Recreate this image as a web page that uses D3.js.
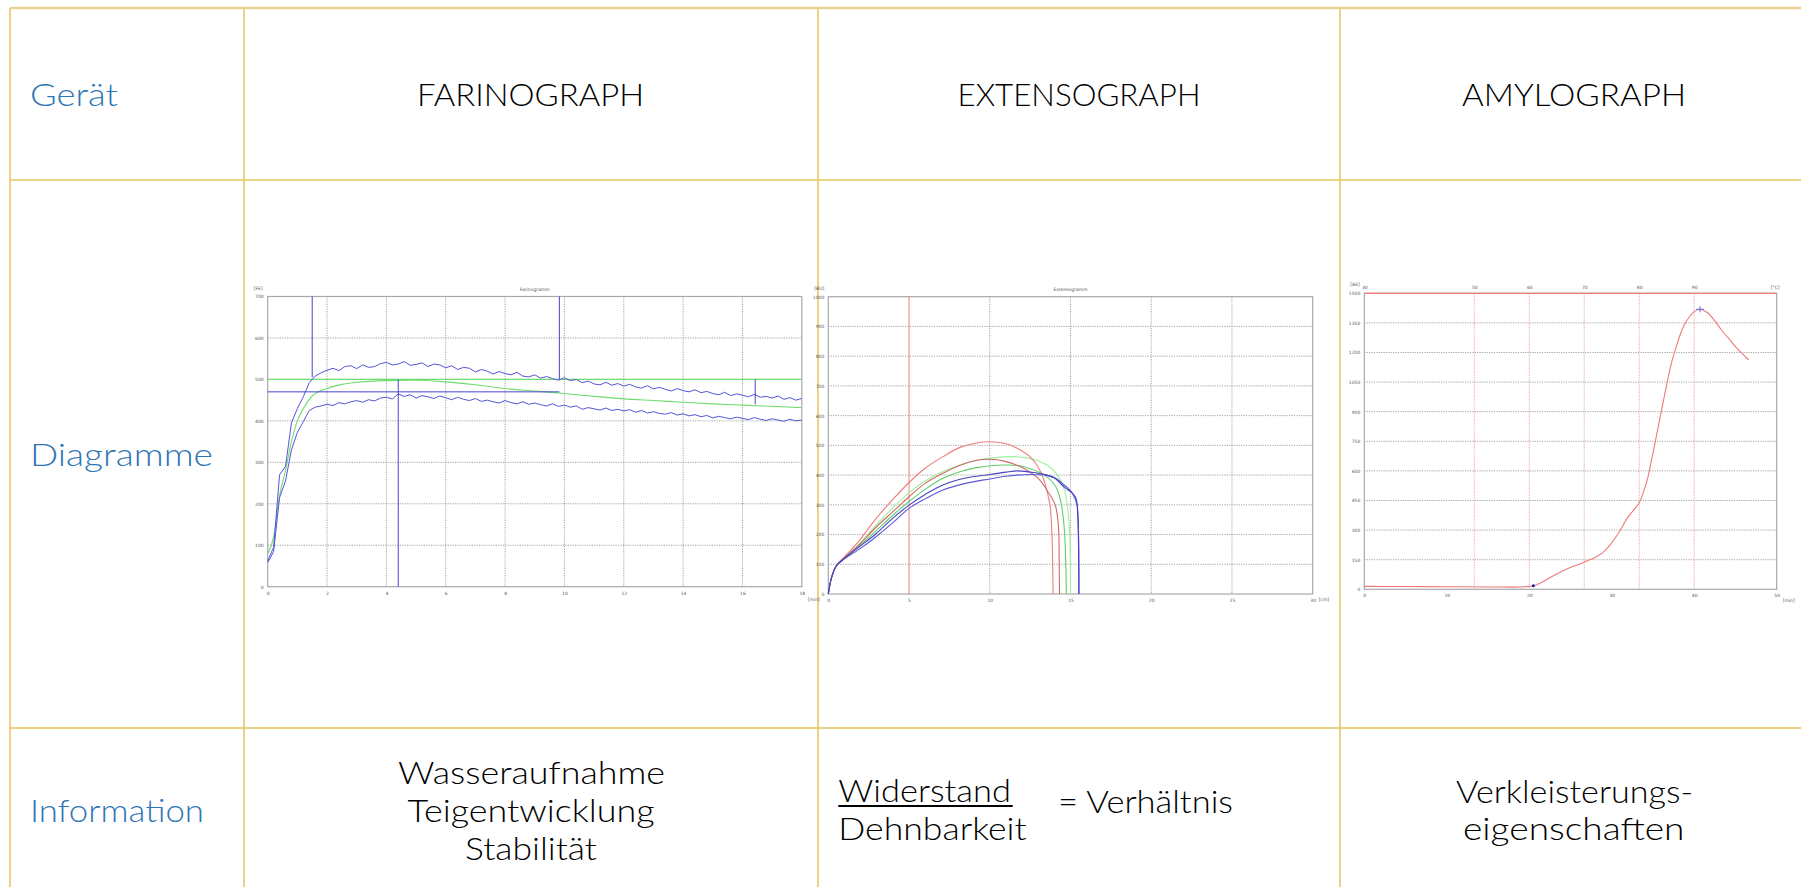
<!DOCTYPE html>
<html><head><meta charset="utf-8">
<script src="https://cdn.jsdelivr.net/npm/d3@7/dist/d3.min.js"></script>
<style>body{margin:0;background:#fff}svg{display:block}</style>
</head><body>
<svg id="c" width="1801" height="887"></svg>
<script>
// ---------- table texts ----------
const rowLabels = ["Gerät", "Diagramme", "Information"];
const devices = ["FARINOGRAPH", "EXTENSOGRAPH", "AMYLOGRAPH"];
const farinoInfo = ["Wasseraufnahme", "Teigentwicklung", "Stabilität"];
const extensoInfo = ["Widerstand", "Dehnbarkeit", "= Verhältnis"];
const amyloInfo = ["Verkleisterungs-", "eigenschaften"];

// ---------- Farinograph (min, FE) ----------
const farinoTime = [0,0.2,0.4,0.6,0.8,1,1.2,1.4,1.6,1.8,2,2.2,2.4,2.6,2.8,3,3.2,3.4,3.6,3.8,4,4.2,4.4,4.6,4.8,5,5.2,5.4,5.6,5.8,6,6.2,6.4,6.6,6.8,7,7.2,7.4,7.6,7.8,8,8.2,8.4,8.6,8.8,9,9.2,9.4,9.6,9.8,10,10.2,10.4,10.6,10.8,11,11.2,11.4,11.6,11.8,12,12.2,12.4,12.6,12.8,13,13.2,13.4,13.6,13.8,14,14.2,14.4,14.6,14.8,15,15.2,15.4,15.6,15.8,16,16.2,16.4,16.6,16.8,17,17.2,17.4,17.6,17.8,18];
const farinoUpper = [62,95,270,290,395,430,458,492,508,516,522,527,521,531,533,526,535,529,531,538,541,535,537,543,534,536,540,531,537,535,528,533,524,529,527,518,524,520,513,519,514,511,517,508,506,511,503,507,502,498,504,497,500,492,496,489,487,493,486,490,484,488,482,479,485,477,481,476,472,478,473,470,475,468,471,466,463,469,461,465,462,458,464,457,459,455,460,452,456,450,454];
const farinoLower = [58,85,215,255,330,372,398,425,433,436,440,437,444,441,446,449,445,451,448,455,457,453,465,459,463,455,461,458,454,460,456,451,457,452,449,454,447,450,446,443,449,444,441,446,440,443,439,436,441,435,438,433,436,428,432,429,426,431,425,428,424,427,421,425,419,422,418,416,420,414,417,412,415,410,413,407,411,408,405,409,406,403,408,404,401,405,402,399,404,400,402];
const farinoMeanT = [0,0.2,0.4,0.6,0.8,1,1.2,1.5,2,2.5,3,4,5,6,7,8,9,10,11,12,13,14,15,16,17,18];
const farinoMean  = [80,120,220,280,350,400,430,460,478,488,493,497,498,494,487,478,472,466,459,453,449,445,441,438,435,432];
const farinoTarget = [500];
// marker segments [t1, FE1, t2, FE2]
const farinoMarks = [[1.5,700,1.5,505],[9.83,700,9.83,500],[0,470,9.83,470],[4.4,500,4.4,0],[16.43,500,16.43,440]];
const farinoXTicks = [0,2,4,6,8,10,12,14,16,18];
const farinoYTicks = [0,100,200,300,400,500,600,700];

// ---------- Extensograph (cm, BU) ----------
const extRedHigh = [[0,0],[0.2,55],[0.5,95],[1,125],[1.9,178],[2.9,250],[4,318],[5,375],[6,423],[7.1,462],[8.2,494],[9.2,508],[10,512],[10.9,507],[11.7,490],[12.6,456],[13.2,405],[13.55,345],[13.75,290],[13.85,200],[13.9,90],[13.92,0]];
const extRedLow = [[0,0],[0.2,55],[0.5,95],[1,122],[1.9,165],[2.9,222],[4,277],[5,327],[6,372],[7.1,406],[8.2,434],[9.2,450],[10,453],[10.9,447],[11.9,428],[13,389],[13.6,344],[14.05,300],[14.25,230],[14.3,100],[14.32,0]];
const extGreenHigh = [[0,0],[0.2,55],[0.5,95],[1,122],[1.9,168],[2.9,228],[4,290],[5,340],[6,380],[7.1,412],[8.2,435],[9.2,450],[10.2,458],[11.3,462],[12.3,458],[13,447],[13.7,428],[14.2,400],[14.6,355],[14.8,300],[14.95,200],[15,0]];
const extGreenLow = [[0,0],[0.2,55],[0.5,95],[1,120],[1.9,160],[2.9,210],[4,265],[5,311],[6,352],[7.1,389],[8.2,412],[9.2,425],[10.2,432],[10.9,434],[11.8,432],[12.4,423],[13.4,400],[14.1,360],[14.4,310],[14.6,230],[14.7,120],[14.74,0]];
const extBlueHigh = [[0,0],[0.2,55],[0.5,95],[1,120],[1.9,158],[2.9,200],[4,255],[5,299],[6,335],[7.1,367],[8.5,390],[10,402],[11,410],[11.7,414],[12.5,410],[13.4,402],[14,390],[14.65,358],[15.1,340],[15.35,320],[15.45,260],[15.5,150],[15.52,0]];
const extBlueLow = [[0,0],[0.2,55],[0.5,95],[1,118],[1.9,150],[2.9,190],[4,240],[5,288],[6,320],[7.1,350],[8.5,372],[10,387],[11,396],[11.7,400],[12.6,402],[13.4,400],[14,392],[14.65,365],[15.1,340],[15.4,300],[15.5,200],[15.52,0]];
const extMark = [5];
const extXTicks = [0,5,10,15,20,25,30];
const extYTicks = [0,100,200,300,400,500,600,700,800,900,1000];

// ---------- Amylograph (min, AE) ----------
const amyCurve = [[0,15],[5,14],[10,13],[15,12],[19,12],[20.5,18],[21.5,35],[22.7,64],[24,92],[24.7,106],[25.7,122],[26.7,138],[27.7,156],[28.8,182],[29.8,225],[30.8,284],[32,368],[33.3,436],[33.9,500],[34.4,571],[34.9,670],[35.4,774],[36,900],[36.7,1044],[37.2,1140],[37.7,1213],[38.3,1290],[38.9,1348],[39.5,1385],[40,1407],[40.7,1419],[41.2,1412],[41.7,1399],[42.5,1360],[43.3,1314],[44.2,1270],[45,1230],[45.8,1195],[46.6,1162]];
const amyStart = [20.5, 18];
const amyPeak = [40.7, 1419];
const amyXTicks = [0,10,20,30,40,50];
const amyYTicks = [0,150,300,450,600,750,900,1050,1200,1350,1500];
const amyTempTicks = [30,50,60,70,80,90];

// ================= drawing =================
const svg = d3.select("#c");
svg.append("rect").attr("width",1801).attr("height",887).attr("fill","#fff");

const FONT = "Lato, 'Noto Sans', sans-serif";
const TINY = "'DejaVu Sans', sans-serif";

function txt(s, x, y, w, color, opts={}) {
  return svg.append("text").attr("x",x).attr("y",y).text(s)
    .attr("font-family",FONT).attr("font-size",opts.size||31).attr("font-weight",300)
    .attr("fill",color).attr("textLength",w).attr("lengthAdjust","spacingAndGlyphs");
}

// ---------- table grid ----------
const lineCol = "#E3B944";
const colX = [10, 244, 818, 1340];
const rowY = [8, 180, 728];
colX.forEach(x => svg.append("line").attr("x1",x).attr("x2",x).attr("y1",8).attr("y2",887)
  .attr("stroke",lineCol).attr("stroke-width",1.3));
rowY.slice(1).forEach(y => svg.append("line").attr("x1",10).attr("x2",1801).attr("y1",y).attr("y2",y)
  .attr("stroke","#E6C45E").attr("stroke-width",1.6));
svg.append("line").attr("x1",10).attr("x2",1801).attr("y1",rowY[0]).attr("y2",rowY[0])
  .attr("stroke","#E8D38E").attr("stroke-width",2.4);

// ---------- table texts ----------
const blue = "#2E75B6";
txt(rowLabels[0], 30, 106, 88, blue);
txt(rowLabels[1], 30, 466, 183, blue);
txt(rowLabels[2], 30, 822, 174, blue);
txt(devices[0], 417, 106, 227, "#000");
txt(devices[1], 957.5, 106, 243, "#000");
txt(devices[2], 1462, 106, 224, "#000");
txt(farinoInfo[0], 398, 784, 267, "#000");
txt(farinoInfo[1], 407.6, 822, 247, "#000");
txt(farinoInfo[2], 465, 860, 132, "#000");
txt(extensoInfo[0], 838.3, 802, 172.7, "#000");
svg.append("line").attr("x1",838.3).attr("x2",1012.7).attr("y1",806).attr("y2",806).attr("stroke","#000").attr("stroke-width",2);
txt(extensoInfo[1], 838.3, 840, 188.4, "#000");
txt(extensoInfo[2], 1058, 813, 175, "#000");
txt(amyloInfo[0], 1456, 803, 237, "#000");
txt(amyloInfo[1], 1463, 840, 221.5, "#000");

// ---------- panel helper ----------
function panel(cfg) {
  const g = svg.append("g");
  const x = d3.scaleLinear().domain(cfg.xDomain).range([cfg.left, cfg.right]);
  const y = d3.scaleLinear().domain(cfg.yDomain).range([cfg.bottom, cfg.top]);
  g.selectAll(null).data(cfg.yTicks.slice(1,-1)).join("line")
    .attr("x1",cfg.left).attr("x2",cfg.right).attr("y1",d=>y(d)).attr("y2",d=>y(d))
    .attr("stroke","#8c8c8c").attr("stroke-width",0.8).attr("stroke-dasharray","1.2,1.2");
  if (cfg.vGrid) g.selectAll(null).data(cfg.vGrid).join("line")
    .attr("x1",d=>x(d)).attr("x2",d=>x(d)).attr("y1",cfg.top).attr("y2",cfg.bottom)
    .attr("stroke",cfg.vGridColor||"#8c8c8c").attr("stroke-width",0.8).attr("stroke-dasharray","1.2,1.2");
  g.append("rect").attr("x",cfg.left).attr("y",cfg.top).attr("width",cfg.right-cfg.left).attr("height",cfg.bottom-cfg.top)
    .attr("fill","none").attr("stroke","#a8a8a8").attr("stroke-width",1.2);
  const ya = g.append("g").attr("transform",`translate(${cfg.left},0)`)
    .call(d3.axisLeft(y).tickValues(cfg.yTicks).tickSize(0).tickPadding(4).tickFormat(d3.format("d")));
  const xa = g.append("g").attr("transform",`translate(0,${cfg.bottom})`)
    .call(d3.axisBottom(x).tickValues(cfg.xTicks).tickSize(0).tickPadding(5).tickFormat(d3.format("d")));
  [ya, xa].forEach(a => {
    a.select(".domain").remove();
    a.selectAll("text").attr("font-family",TINY).attr("font-size",4.5).attr("fill","#555");
  });
  g.append("text").attr("x",cfg.left-14).attr("y",cfg.top-7).text(cfg.yUnit)
    .attr("font-family",TINY).attr("font-size",4.5).attr("fill","#555");
  g.append("text").attr("x",cfg.right+6).attr("y",cfg.bottom+(cfg.xUnitDy||14)).text(cfg.xUnit)
    .attr("font-family",TINY).attr("font-size",4.5).attr("fill","#555");
  if (cfg.title) g.append("text").attr("x",(cfg.left+cfg.right)/2).attr("y",cfg.top-6).text(cfg.title)
    .attr("text-anchor","middle").attr("font-family",TINY).attr("font-size",4.5).attr("fill","#555");
  return {g, x, y};
}

// ---------- Farinograph ----------
{
  const {g,x,y} = panel({left:267.7, right:801.8, top:296.5, bottom:586.7,
    xDomain:[0,18], yDomain:[0,700], xTicks:farinoXTicks, yTicks:farinoYTicks,
    vGrid:farinoXTicks.slice(1,-1), yUnit:"[FE]", xUnit:"[min]", title:"Farinogramm"});
  const L = d3.line().x(d=>x(d[0])).y(d=>y(d[1]));
  g.selectAll(null).data(farinoTarget).join("line")
    .attr("x1",x(0)).attr("x2",x(18)).attr("y1",d=>y(d)).attr("y2",d=>y(d))
    .attr("stroke","#6fe06f").attr("stroke-width",1.1);
  g.append("path").datum(farinoMeanT.map((t,i)=>[t,farinoMean[i]])).attr("d",L.curve(d3.curveMonotoneX))
    .attr("fill","none").attr("stroke","#72dc72").attr("stroke-width",1.1);
  const Lj = d3.line().x(d=>x(d[0])).y(d=>y(d[1]));
  [farinoUpper, farinoLower].forEach(s => g.append("path").datum(farinoTime.map((t,i)=>[t,s[i]])).attr("d",Lj)
    .attr("fill","none").attr("stroke","#5555d8").attr("stroke-width",1));
  g.selectAll(null).data(farinoMarks).join("line")
    .attr("x1",d=>x(d[0])).attr("y1",d=>y(d[1])).attr("x2",d=>x(d[2])).attr("y2",d=>y(d[3]))
    .attr("stroke","#4545d0").attr("stroke-width",1);
}

// ---------- Extensograph ----------
{
  const {g,x,y} = panel({left:828.3, right:1312.7, top:296.7, bottom:594,
    xDomain:[0,30], yDomain:[0,1000], xTicks:extXTicks, yTicks:extYTicks,
    vGrid:extXTicks.slice(2,-1), yUnit:"[BU]", xUnit:"[cm]", xUnitDy:7, title:"Extensogramm"});
  g.selectAll(null).data(extMark).join("line")
    .attr("x1",d=>x(d)).attr("x2",d=>x(d)).attr("y1",y(1000)).attr("y2",y(0))
    .attr("stroke","#ee8080").attr("stroke-width",1);
  const Lc = d3.line().x(d=>x(d[0])).y(d=>y(d[1])).curve(d3.curveCatmullRom);
  const series = [
    [extGreenHigh, "#9ff09f"], [extGreenLow, "#5fcf6a"],
    [extRedHigh, "#ef7d7d"], [extRedLow, "#d06a6a"],
    [extBlueLow, "#5a5ad6"], [extBlueHigh, "#4444c4"]
  ];
  series.forEach(([d,c]) => g.append("path").datum(d).attr("d",Lc)
    .attr("fill","none").attr("stroke",c).attr("stroke-width",1.1));
}

// ---------- Amylograph ----------
{
  const {g,x,y} = panel({left:1364.3, right:1776.7, top:293.3, bottom:589.3,
    xDomain:[0,50], yDomain:[0,1500], xTicks:amyXTicks, yTicks:amyYTicks,
    vGrid:null, yUnit:"[AE]", xUnit:"[min]", xUnitDy:13, title:null});
  // temperature axis: 30 °C at 0 min, +1.5 °C per min
  const tx = d3.scaleLinear().domain([30,105]).range([x(0), x(50)]);
  g.selectAll(null).data(amyTempTicks.slice(1)).join("line")
    .attr("x1",d=>tx(d)).attr("x2",d=>tx(d)).attr("y1",y(1500)).attr("y2",y(0))
    .attr("stroke","#e89a9a").attr("stroke-width",0.9).attr("stroke-dasharray","1.2,1.2");
  g.append("line").attr("x1",x(0)).attr("x2",x(50)).attr("y1",y(1500)).attr("y2",y(1500))
    .attr("stroke","#ee7a7a").attr("stroke-width",1.3);
  const ta = g.append("g").attr("transform",`translate(0,${y(1500)})`)
    .call(d3.axisTop(tx).tickValues(amyTempTicks).tickSize(0).tickPadding(4).tickFormat(d3.format("d")));
  ta.select(".domain").remove();
  ta.selectAll("text").attr("font-family",TINY).attr("font-size",4.5).attr("fill","#555");
  g.append("text").attr("x",x(50)-6).attr("y",y(1500)-4).text("[°C]")
    .attr("font-family",TINY).attr("font-size",4.5).attr("fill","#555");
  const L = d3.line().x(d=>x(d[0])).y(d=>y(d[1])).curve(d3.curveCatmullRom);
  g.append("path").datum(amyCurve).attr("d",L).attr("fill","none").attr("stroke","#ec7a7a").attr("stroke-width",1.1);
  g.append("circle").attr("cx",x(amyStart[0])).attr("cy",y(amyStart[1])).attr("r",1.6).attr("fill","#2020a0");
  g.append("line").attr("x1",x(amyPeak[0])-4).attr("x2",x(amyPeak[0])+4).attr("y1",y(amyPeak[1])).attr("y2",y(amyPeak[1]))
    .attr("stroke","#6a6ad8").attr("stroke-width",1);
  g.append("line").attr("x1",x(amyPeak[0])).attr("x2",x(amyPeak[0])).attr("y1",y(amyPeak[1])-3).attr("y2",y(amyPeak[1])+3)
    .attr("stroke","#6a6ad8").attr("stroke-width",1);
}
</script>
</body></html>
